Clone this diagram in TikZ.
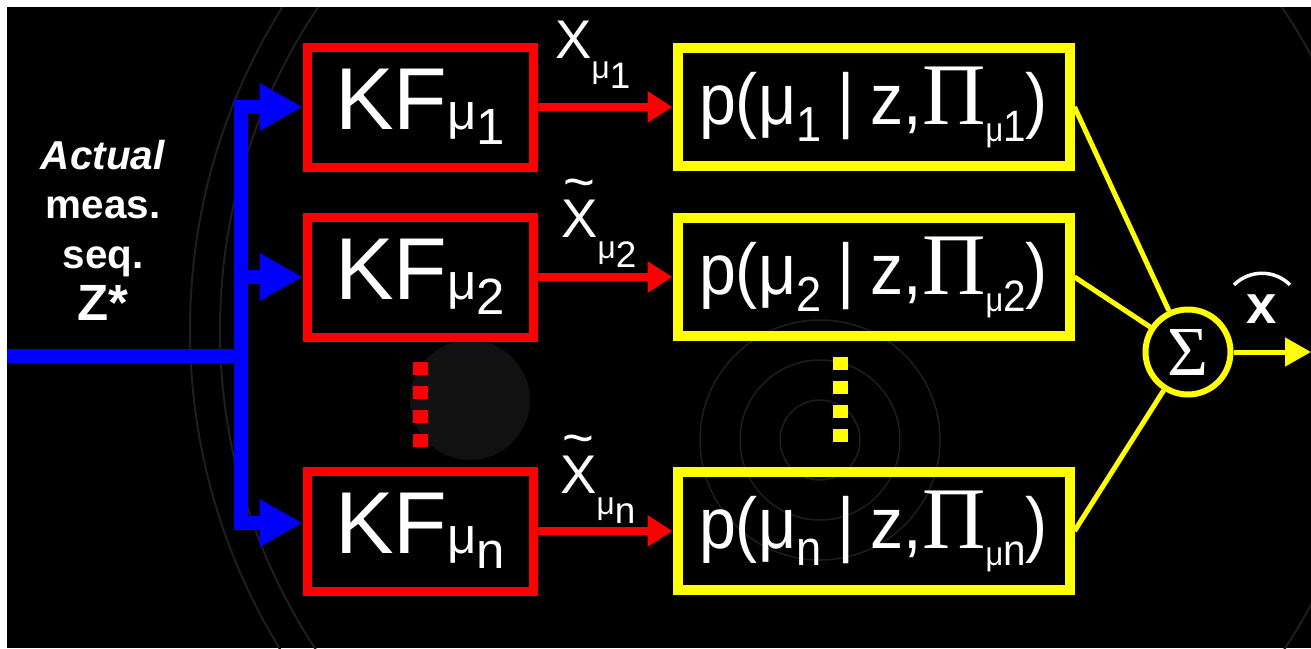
\documentclass[tikz,border=0pt]{standalone}
\usepackage{fontspec}
\setmainfont{Liberation Sans}
\newfontfamily\narrowsf[FakeStretch=0.92]{Liberation Sans}
\newfontfamily\greekserif{Liberation Serif}
\usetikzlibrary{arrows.meta, positioning}
\definecolor{cRed}{RGB}{255,0,0}
\definecolor{cYellow}{RGB}{255,255,0}
\definecolor{cBlue}{RGB}{0,0,255}
\definecolor{cEtch}{RGB}{30,30,30}
\definecolor{cGear}{RGB}{17,17,17}
% filter names, estimates and mode probabilities
\newcommand{\kfname}[1]{KF{\fontsize{29}{29}\selectfont μ\raisebox{-0.3cm}{#1}}}
\newcommand{\xest}[1]{\ooalign{X\cr\hidewidth\raisebox{0.74cm}{\textasciitilde}\hidewidth\cr}{\fontsize{18}{18}\selectfont\raisebox{-0.42cm}{μ}}{\fontsize{21}{21}\selectfont\raisebox{-0.6cm}{#1}}}
\newcommand{\pmode}[1]{p(μ\raisebox{-0.35cm}{\fontsize{28}{28}\selectfont #1}\hspace{0.32cm}|\hspace{0.32cm}z,{\greekserif\fontsize{50}{50}\selectfont Π}\raisebox{-0.34cm}{{\fontsize{19}{19}\selectfont μ}{\fontsize{25}{25}\selectfont #1}})}
\tikzset{
	kfbox/.style  ={rectangle, draw=cRed, line width=0.18cm, minimum width=4.52cm, minimum height=2.4cm, inner sep=0pt, text=white, font=\fontsize{50}{50}\selectfont},
	pbox/.style   ={rectangle, draw=cYellow, line width=0.2cm, minimum width=7.84cm, minimum height=2.36cm, inner sep=0pt, text=white, font=\narrowsf\fontsize{41}{41}\selectfont},
	sumj/.style   ={circle, draw=cYellow, line width=0.12cm, minimum size=1.7cm, inner sep=0pt, text=white, font=\greekserif\fontsize{40}{40}\selectfont},
	bus/.style    ={cBlue, line width=0.27cm},
	busarrow/.style={bus, -{Triangle[length=0.86cm, width=0.9cm]}},
	estarrow/.style={cRed, line width=0.15cm, -{Triangle[length=0.5cm, width=0.6cm]}},
	mixline/.style={cYellow, line width=0.1cm},
	outarrow/.style={mixline, -{Triangle[length=0.52cm, width=0.56cm]}},
	vdots/.style  ={line width=0.3cm, dash pattern=on 0.26cm off 0.22cm},
	estlbl/.style ={anchor=base west, inner sep=0pt, text=white, font=\fontsize{31}{31}\selectfont},
}
\begin{document}
\begin{tikzpicture}
	\useasboundingbox (0,0) rectangle (26.22,-12.96);
	\fill[black] (0.14,-0.14) rectangle (26.22,-12.96);
	% faint engraving behind the diagram
	\begin{scope}
		\clip (0.14,-0.14) rectangle (26.22,-12.96);
		\draw[cEtch, line width=0.04cm] (16,-6.6) circle (12.2) circle (11.6);
		\fill[cGear] (9.4,-8.0) circle (1.2);
		\draw[cEtch, line width=0.03cm] (16.4,-8.8) circle (0.8) circle (1.6) circle (2.4);
	\end{scope}

	% Kalman filter bank
	\node[kfbox] at (8.4,-2.14) (kf1) {\kfname{1}};
	\node[kfbox, below=0.82cm of kf1] (kf2) {\kfname{2}};
	\node[kfbox, below=2.5cm of kf2] (kfn) {\kfname{n}};
	\node[pbox, right=2.7cm of kf1] (p1) {\pmode{1}};
	\node[pbox, right=2.7cm of kf2] (p2) {\pmode{2}};
	\node[pbox, right=2.7cm of kfn] (pn) {\pmode{n}};
	\node[sumj] at (23.76,-7.04) (sum) {Σ};

	% measurement input
	\node[anchor=north, align=center, inner sep=0pt, text=white, font=\bfseries\fontsize{23}{28}\selectfont] at (2.06,-2.8) (meas) {\textit{Actual}\\meas.\\seq.\\[2pt]{\fontsize{29}{29}\selectfont Z*}};
	\coordinate (zin) at (0.14,-7.12);
	\coordinate (split) at (4.82,-7.12);
	\draw[bus] (zin) -- (split);
	\draw[busarrow] (split) |- (kf1.west);
	\draw[busarrow] (split) |- (kf2.west);
	\draw[busarrow] (split) |- ([yshift=0.16cm]kfn.west);

	% estimates into the mode probabilities
	\draw[estarrow] (kf1) -- (p1);
	\draw[estarrow] (kf2) -- (p2);
	\draw[estarrow] (kfn) -- (pn);
	\node[estlbl] at (11.1,-1.16) (xt1) {\xest{1}};
	\node[estlbl] at (11.22,-4.74) (xt2) {\xest{2}};
	\node[estlbl] at (11.2,-9.86) (xtn) {\xest{n}};
	\draw[vdots, cRed] (8.4,-7.24) -- (8.4,-8.94);
	\draw[vdots, cYellow] (16.8,-7.14) -- (16.8,-8.84);

	% weighted sum
	\draw[mixline] (p1.east) -- (sum);
	\draw[mixline] (p2.east) -- (sum);
	\draw[mixline] (pn.east) -- (sum);
	\coordinate (xout) at (26.22,-7.04);
	\draw[outarrow] (sum) -- (xout);
	\node[anchor=base, inner sep=0pt, text=white, font=\bfseries\fontsize{31}{31}\selectfont] at (25.24,-6.46) (xhat) {x};
	\draw[white, line width=0.07cm] ([xshift=-0.56cm, yshift=0.18cm]xhat.north) to[bend left=45] ([xshift=0.56cm, yshift=0.18cm]xhat.north);
\end{tikzpicture}
\end{document}
